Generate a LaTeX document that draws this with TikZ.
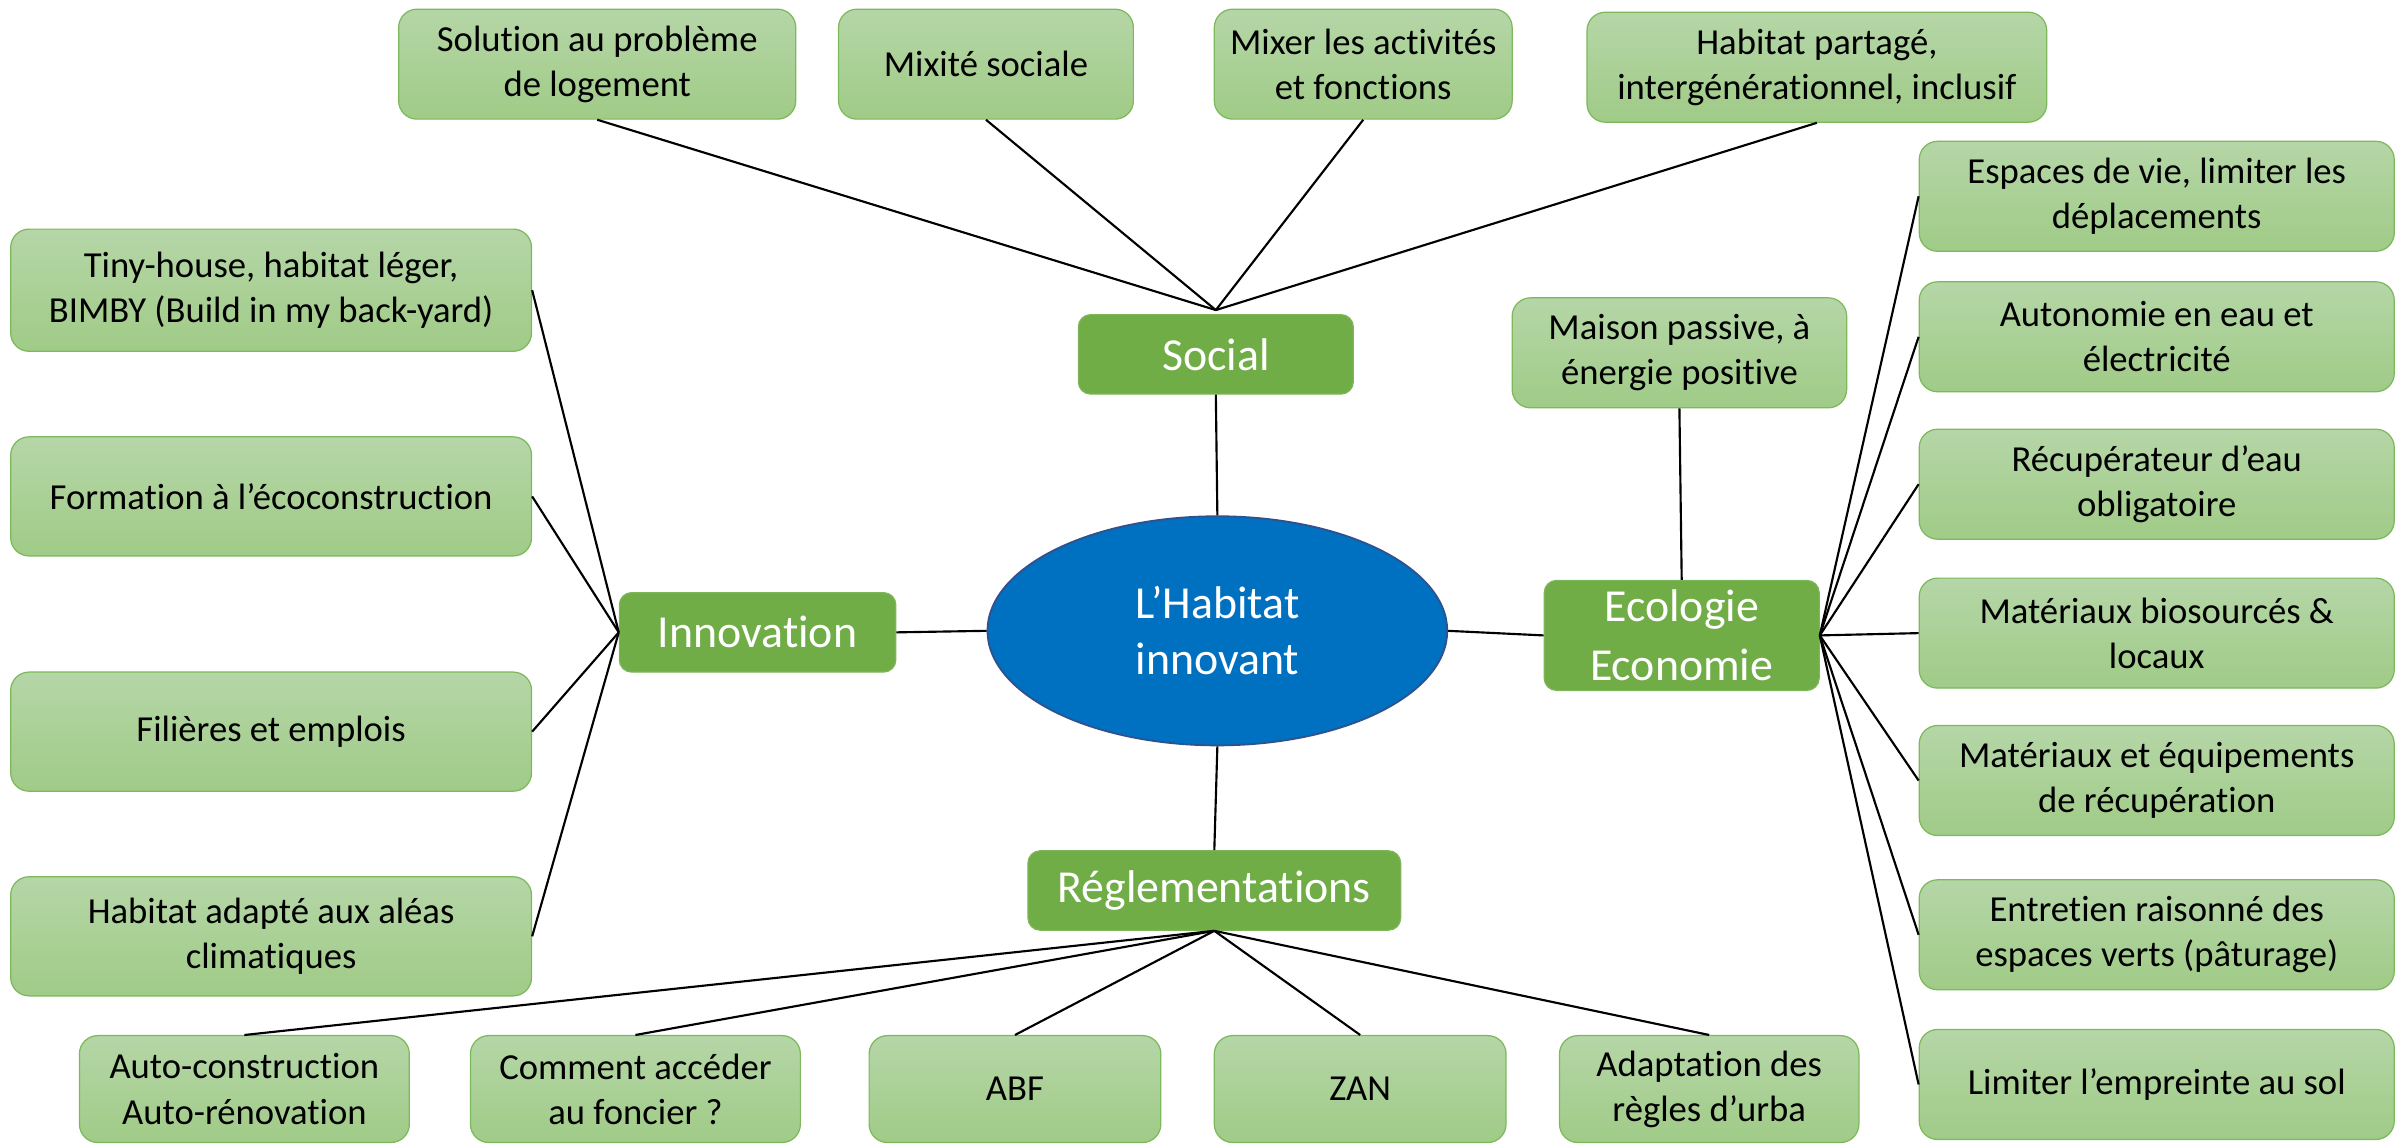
\documentclass[tikz,border=0pt]{standalone}
\usepackage{fontspec}
\setmainfont{Carlito}[Ligatures=NoCommon]
\usetikzlibrary{shapes.geometric}
\definecolor{lgtop}{HTML}{B5D6A7}
\definecolor{lgbot}{HTML}{A0CB87}
\definecolor{lgborder}{HTML}{7DB85A}
\definecolor{dgreen}{HTML}{70AD47}
\definecolor{eblue}{HTML}{0070C0}
\definecolor{eborder}{HTML}{2F528F}
\tikzset{
  lbox/.style={rectangle, rounded corners=6pt, top color=lgtop, bottom color=lgbot, draw=lgborder, line width=0.4pt, align=center, inner sep=0pt, font=\fontsize{12}{14.8}\selectfont, text=black},
  dbox/.style={rectangle, rounded corners=4pt, fill=dgreen, draw=dgreen!90!white, align=center, inner sep=0pt, font=\fontsize{15}{19}\selectfont, text=white},
  conn/.style={draw=black, line width=0.7pt}
}
\begin{document}
\begin{tikzpicture}[x=0.5pt,y=-0.5pt]
\useasboundingbox (0,0) rectangle (1568,749);
% center
\node[ellipse, fill=eblue, draw=eborder, line width=0.6pt, minimum width=150.5pt, minimum height=75pt, inner sep=0pt, align=center, text=white, font=\fontsize{15}{18.3}\selectfont] (hab) at (797,413) {L’Habitat\\innovant};
% main categories
\node[dbox, minimum width=90pt, minimum height=26pt] (soc) at (796,232) {Social};
\node[dbox, minimum width=90.5pt, minimum height=26pt] (inn) at (496,414) {Innovation};
\node[dbox, minimum width=90pt, minimum height=36pt, font=\fontsize{15}{19.5}\selectfont] (eco) at (1101,416) {Ecologie\\Economie};
\node[dbox, minimum width=122pt, minimum height=26pt] (reg) at (795,583) {Réglementations};
% top boxes
\node[lbox, minimum width=130pt, minimum height=36pt] (t1) at (391,42) {Solution au problème\\de logement};
\node[lbox, minimum width=96.5pt, minimum height=36pt] (t2) at (645.5,42) {Mixité sociale};
\node[lbox, minimum width=97.5pt, minimum height=36pt] (t3) at (892.5,42) {Mixer les activités\\et fonctions};
\node[lbox, minimum width=150.5pt, minimum height=36pt] (t4) at (1189.5,44) {Habitat partagé,\\intergénérationnel, inclusif};
% left boxes
\node[lbox, minimum width=170.5pt, minimum height=40pt] (l1) at (177.5,190) {Tiny-house, habitat léger,\\BIMBY (Build in my back-yard)};
\node[lbox, minimum width=170.5pt, minimum height=39pt] (l2) at (177.5,325) {Formation à l’écoconstruction};
\node[lbox, minimum width=170.5pt, minimum height=39pt] (l3) at (177.5,479) {Filières et emplois};
\node[lbox, minimum width=170.5pt, minimum height=39pt] (l4) at (177.5,613) {Habitat adapté aux aléas\\climatiques};
% eco top box
\node[lbox, minimum width=109.5pt, minimum height=36pt] (mp) at (1099.5,231) {Maison passive, à\\énergie positive};
% right boxes
\node[lbox, minimum width=155.5pt, minimum height=36pt] (r1) at (1412,128.5) {Espaces de vie, limiter les\\déplacements};
\node[lbox, minimum width=155.5pt, minimum height=36pt] (r2) at (1412,220.5) {Autonomie en eau et\\électricité};
\node[lbox, minimum width=155.5pt, minimum height=36pt] (r3) at (1412,317) {Récupérateur d’eau\\obligatoire};
\node[lbox, minimum width=155.5pt, minimum height=36pt] (r4) at (1412,414.5) {Matériaux biosourcés \&\\locaux};
\node[lbox, minimum width=155.5pt, minimum height=36pt] (r5) at (1412,511) {Matériaux et équipements\\de récupération};
\node[lbox, minimum width=155.5pt, minimum height=36pt] (r6) at (1412,612) {Entretien raisonné des\\espaces verts (pâturage)};
\node[lbox, minimum width=155.5pt, minimum height=36pt] (r7) at (1412,710) {Limiter l’empreinte au sol};
% bottom boxes
\node[lbox, minimum width=108pt, minimum height=35pt] (b1) at (160,713) {Auto-construction\\Auto-rénovation};
\node[lbox, minimum width=108pt, minimum height=35pt] (b2) at (416,713) {Comment accéder\\au foncier ?};
\node[lbox, minimum width=95.5pt, minimum height=35pt] (b3) at (664.5,713) {ABF};
\node[lbox, minimum width=95.5pt, minimum height=35pt] (b4) at (890.5,713) {ZAN};
\node[lbox, minimum width=98pt, minimum height=35pt] (b5) at (1119,713) {Adaptation des\\règles d’urba};
% junction
\coordinate (sj) at (796,203);
% connectors
\draw[conn] (t1.south) -- (sj);
\draw[conn] (t2.south) -- (sj);
\draw[conn] (t3.south) -- (sj);
\draw[conn] (t4.south) -- (sj);
\draw[conn] (soc.south) -- (hab.north);
\draw[conn] (hab.west) -- (inn.east);
\draw[conn] (hab.east) -- (eco.west);
\draw[conn] (hab.south) -- (reg.north);
\draw[conn] (mp.south) -- (eco.north);
\foreach \n in {l1,l2,l3,l4} \draw[conn] (\n.east) -- (inn.west);
\foreach \n in {r1,r2,r3,r4,r5,r6,r7} \draw[conn] (eco.east) -- (\n.west);
\foreach \n in {b1,b2,b3,b4,b5} \draw[conn] (reg.south) -- (\n.north);
\end{tikzpicture}
\end{document}
